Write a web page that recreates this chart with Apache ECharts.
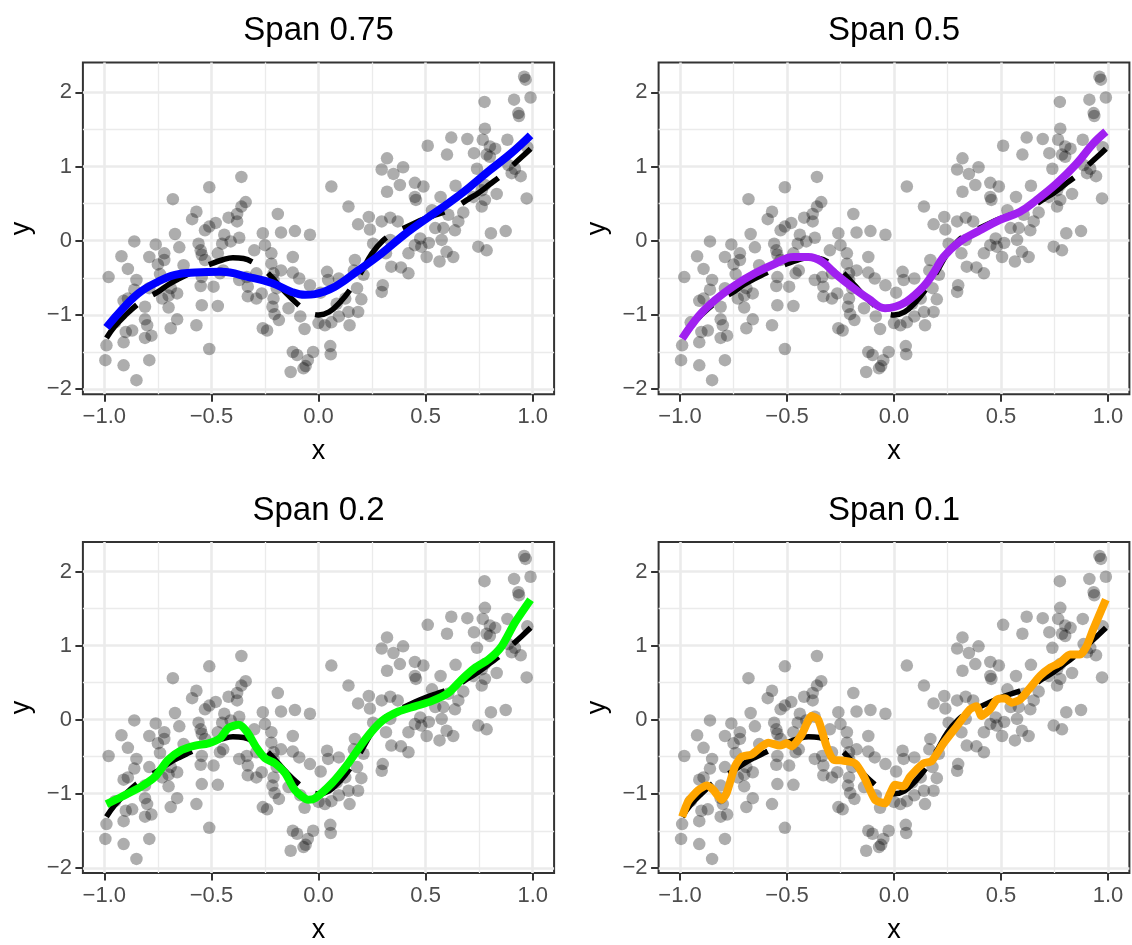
<!DOCTYPE html>
<html><head><meta charset="utf-8">
<script src="https://cdn.jsdelivr.net/npm/echarts@6/dist/echarts.min.js"></script>
<style>html,body{margin:0;padding:0;background:#fff}#c{width:1132px;height:945px}</style>
</head><body><div id="c"></div>
<script>
const panelTitles = ['Span 0.75', 'Span 0.5', 'Span 0.2', 'Span 0.1'];
const fitColors = ['#0000FF', '#A020F0', '#00FF00', '#FFA500'];
const xTicks = [-1, -0.5, 0, 0.5, 1];
const xMinor = [-0.75, -0.25, 0.25, 0.75];
const yTicks = [-2, -1, 0, 1, 2];
const yMinor = [-1.5, -0.5, 0.5, 1.5];

const points = [
[-0.68,0.56],[-0.57,0.39],[-0.59,0.29],[-0.67,0.09],[-0.86,-0.01],[-0.76,-0.05],[-0.92,-0.21],[-0.72,-0.17],[-0.72,-0.26],[-0.65,-0.09],[-0.79,-0.22],[-0.89,-0.38],[-0.98,-0.49],[-0.85,-0.53],[-0.75,-0.32],[-0.63,-0.33],[-0.86,-0.66],[-0.89,-0.78],[-0.91,-0.81],[-0.79,-0.64],[-0.73,-0.78],[-0.69,-0.64],[-0.66,-0.71],[-0.81,-0.89],[-0.70,-0.90],[-0.66,-1.06],[-0.81,-1.06],[-0.80,-1.14],[-0.57,-1.14],[-0.69,-1.18],[-0.90,-1.23],[-0.87,-1.21],[-0.99,-1.41],[-0.91,-1.37],[-0.81,-1.31],[-0.78,-1.28],[-0.995,-1.61],[-0.91,-1.68],[-0.79,-1.61],[-0.85,-1.88],[-0.55,-0.61],[-0.95,-1.10],[-0.74,-0.45],[-0.70,-0.74],
[-0.36,0.86],[-0.51,0.72],[-0.34,0.52],[-0.36,0.46],[-0.38,0.36],[-0.42,0.31],[-0.38,0.26],[-0.48,0.24],[-0.51,0.19],[-0.53,0.14],[-0.19,0.36],[-0.175,0.11],[-0.11,0.13],[-0.04,0.08],[-0.26,0.10],[-0.44,0.08],[-0.37,0.04],[-0.41,-0.01],[-0.45,-0.04],[-0.25,-0.06],[-0.30,-0.13],[-0.22,-0.17],[-0.12,-0.22],[-0.56,-0.04],[-0.55,-0.13],[-0.545,-0.19],[-0.53,-0.26],[-0.47,-0.17],[-0.37,-0.53],[-0.49,-0.62],[-0.545,-0.49],[-0.545,-0.87],[-0.47,-0.88],[-0.51,-1.46],[-0.33,-0.75],[-0.29,-0.78],[-0.265,-0.71],[-0.335,-0.49],[-0.29,-0.44],[-0.22,-0.31],[-0.21,-0.44],[-0.175,-0.40],[-0.21,-0.53],[-0.195,-0.64],[-0.21,-0.78],[-0.215,-0.89],[-0.205,-0.99],[-0.185,-1.07],[-0.26,-1.18],[-0.24,-1.21],[-0.14,-0.91],[-0.12,-0.43],[-0.09,-0.51],[-0.04,-0.60],[-0.085,-1.02],[-0.065,-1.19],[-0.12,-1.50],[-0.10,-1.54],[-0.13,-1.77],[-0.07,-1.72],[-0.06,-1.69],[-0.05,-1.61],[-0.025,-1.50],[0.0,-1.11],[-0.46,-0.44],[-0.445,-0.40],[-0.33,-0.62],[0.01,-0.70],
[0.51,1.28],[0.32,1.11],[0.295,0.96],[0.35,0.90],[0.395,0.99],[0.38,0.75],[0.32,0.66],[0.45,0.78],[0.49,0.73],[0.45,0.59],[0.455,0.55],[0.57,0.59],[0.06,0.73],[0.14,0.46],[0.185,0.22],[0.235,0.32],[0.24,0.15],[0.295,0.26],[0.335,0.31],[0.37,0.26],[0.335,0.01],[0.255,-0.04],[0.315,-0.17],[0.34,-0.35],[0.385,-0.36],[0.42,-0.44],[0.42,-0.17],[0.45,-0.06],[0.475,0.03],[0.48,-0.08],[0.515,-0.03],[0.505,-0.22],[0.545,0.17],[0.565,-0.28],[0.53,0.41],[0.17,-0.26],[0.165,-0.40],[0.21,-0.46],[0.18,-0.64],[0.20,-0.79],[0.14,-0.96],[0.185,-0.96],[0.145,-1.14],[0.095,-1.02],[0.06,-1.10],[0.03,-1.14],[0.055,-1.42],[0.057,-1.53],[0.04,-0.42],[0.095,-0.51],[0.045,-0.53],[0.30,-0.60],[0.295,-0.69],[0.125,-0.78],[0.085,-0.85],
[0.96,2.21],[0.967,2.17],[0.775,1.87],[0.913,1.90],[0.99,1.93],[0.933,1.72],[0.936,1.68],[0.777,1.51],[0.62,1.39],[0.695,1.37],[0.767,1.36],[0.882,1.36],[0.60,1.16],[0.726,1.18],[0.80,1.27],[0.825,1.24],[0.785,1.16],[0.80,1.13],[0.975,1.26],[0.886,1.02],[0.917,0.97],[0.902,0.91],[0.944,0.87],[0.74,0.97],[0.64,0.74],[0.777,0.75],[0.762,0.68],[0.832,0.63],[0.723,0.59],[0.777,0.55],[0.762,0.46],[0.972,0.57],[0.676,0.38],[0.606,0.35],[0.653,0.26],[0.637,0.14],[0.583,0.17],[0.805,0.10],[0.874,0.13],[0.575,0.01],[0.598,-0.15],[0.629,-0.22],[0.746,-0.08],[0.785,-0.13]
];

const trueCurve = [
[-0.99,-1.31],[-0.95,-1.15],[-0.9,-1.0],[-0.85,-0.87],[-0.8,-0.77],[-0.75,-0.69],[-0.7,-0.59],[-0.65,-0.51],[-0.6,-0.44],[-0.55,-0.37],[-0.5,-0.31],[-0.45,-0.26],[-0.4,-0.23],[-0.35,-0.24],[-0.3,-0.30],[-0.25,-0.40],[-0.2,-0.55],[-0.15,-0.71],[-0.1,-0.85],[-0.05,-0.96],[0.0,-1.0],[0.05,-0.96],[0.1,-0.83],[0.15,-0.65],[0.2,-0.42],[0.25,-0.17],[0.3,0.0],[0.35,0.10],[0.4,0.17],[0.45,0.24],[0.5,0.30],[0.55,0.35],[0.6,0.40],[0.65,0.47],[0.7,0.56],[0.75,0.65],[0.8,0.76],[0.85,0.87],[0.9,1.0],[0.95,1.13],[0.99,1.24]
];

const fitSpan075 = [
[-0.99,-1.17],[-0.934,-0.98],[-0.841,-0.71],[-0.748,-0.55],[-0.67,-0.46],[-0.577,-0.43],[-0.452,-0.42],[-0.327,-0.49],[-0.218,-0.57],[-0.125,-0.69],[-0.063,-0.73],[-0.016,-0.72],[0.077,-0.62],[0.186,-0.40],[0.295,-0.17],[0.4,0.08],[0.5,0.29],[0.6,0.49],[0.7,0.71],[0.8,0.95],[0.9,1.18],[0.99,1.42]
];
const fitSpan05 = [
[-0.99,-1.32],[-0.914,-1.02],[-0.836,-0.80],[-0.743,-0.60],[-0.650,-0.44],[-0.556,-0.31],[-0.470,-0.22],[-0.400,-0.22],[-0.338,-0.28],[-0.276,-0.44],[-0.198,-0.62],[-0.120,-0.78],[-0.042,-0.91],[0.005,-0.89],[0.059,-0.82],[0.137,-0.62],[0.184,-0.44],[0.231,-0.22],[0.308,-0.01],[0.402,0.14],[0.495,0.28],[0.589,0.39],[0.667,0.55],[0.760,0.77],[0.854,1.04],[0.931,1.31],[0.99,1.47]
];
const fitSpan02 = [
[-0.99,-1.14],[-0.919,-1.04],[-0.826,-0.90],[-0.763,-0.77],[-0.701,-0.54],[-0.639,-0.41],[-0.576,-0.35],[-0.514,-0.32],[-0.459,-0.25],[-0.420,-0.11],[-0.373,-0.07],[-0.335,-0.16],[-0.289,-0.38],[-0.250,-0.52],[-0.203,-0.59],[-0.156,-0.72],[-0.110,-0.95],[-0.047,-1.08],[-0.016,-1.06],[0.062,-0.86],[0.139,-0.59],[0.217,-0.27],[0.295,-0.02],[0.373,0.11],[0.451,0.18],[0.528,0.25],[0.606,0.36],[0.668,0.54],[0.731,0.70],[0.793,0.81],[0.855,0.99],[0.917,1.31],[0.99,1.62]
];
const fitSpan01 = [
[-0.99,-1.31],[-0.961,-1.10],[-0.914,-0.95],[-0.875,-0.89],[-0.844,-0.95],[-0.805,-1.08],[-0.782,-0.99],[-0.743,-0.63],[-0.712,-0.50],[-0.665,-0.47],[-0.618,-0.36],[-0.587,-0.31],[-0.533,-0.35],[-0.502,-0.32],[-0.478,-0.36],[-0.431,-0.20],[-0.385,0.05],[-0.354,0.00],[-0.315,-0.36],[-0.283,-0.54],[-0.245,-0.55],[-0.182,-0.59],[-0.140,-0.77],[-0.089,-1.08],[-0.042,-1.13],[-0.019,-1.0],[0.005,-0.88],[0.044,-0.90],[0.075,-0.77],[0.137,-0.59],[0.176,-0.56],[0.231,-0.32],[0.293,-0.09],[0.355,0.14],[0.386,0.18],[0.409,0.05],[0.449,0.14],[0.480,0.27],[0.519,0.29],[0.550,0.23],[0.589,0.27],[0.636,0.43],[0.682,0.59],[0.729,0.70],[0.776,0.77],[0.822,0.88],[0.869,0.88],[0.900,0.99],[0.931,1.22],[0.99,1.62]
];
const fits = [fitSpan075, fitSpan05, fitSpan02, fitSpan01];
const fitSmooth = [0.4, 0.4, 0.25, 0.2];

const FONT = '"Liberation Sans", Arial, Helvetica, sans-serif';
const grids = [
  {left: 82.9, top: 62.6, width: 471.2, height: 331.7},
  {left: 658.6, top: 62.6, width: 470.8, height: 331.7},
  {left: 82.9, top: 541.9, width: 471.2, height: 331.7},
  {left: 658.6, top: 541.9, width: 470.8, height: 331.7}
];
const titleTops = [14, 14, 494, 494];
const minus = v => (v < 0 ? '\u2212' : '') ;
const fmtX = v => minus(v) + Math.abs(v).toFixed(1);
const fmtY = v => minus(v) + Math.abs(v).toFixed(0);

const option = {
  animation: false,
  backgroundColor: '#ffffff',
  title: [], grid: [], xAxis: [], yAxis: [], series: []
};

grids.forEach((g, i) => {
  option.grid.push(Object.assign({show: true, borderColor: '#333333', borderWidth: 2, backgroundColor: '#ffffff', containLabel: false}, g));
  option.title.push({
    text: panelTitles[i], left: g.left + g.width / 2, top: titleTops[i], textAlign: 'center', padding: 0,
    textStyle: {fontSize: 33, fontWeight: 'normal', color: '#000', fontFamily: FONT}
  });
  option.xAxis.push({
    type: 'value', gridIndex: i, min: -1.1, max: 1.1, position: 'bottom',
    name: 'x', nameLocation: 'middle', nameGap: 44,
    nameTextStyle: {fontSize: 27, color: '#000', fontFamily: FONT},
    axisLine: {show: false, onZero: false},
    axisTick: {show: true, length: 7.5, customValues: xTicks, lineStyle: {color: '#333333', width: 2}},
    axisLabel: {show: true, customValues: xTicks, formatter: fmtX, margin: 12, fontSize: 22, color: '#4D4D4D', fontFamily: FONT},
    splitLine: {show: true, lineStyle: {color: '#EBEBEB', width: 2.6}}
  });
  option.xAxis.push({
    type: 'value', gridIndex: i, min: -1.1, max: 1.1, position: 'bottom',
    axisLine: {show: false, onZero: false}, axisLabel: {show: false},
    axisTick: {show: false, customValues: xMinor},
    splitLine: {show: true, lineStyle: {color: '#EBEBEB', width: 1.3}}
  });
  option.yAxis.push({
    type: 'value', gridIndex: i, min: -2.07, max: 2.40, position: 'left',
    name: 'y', nameLocation: 'middle', nameGap: 48,
    nameTextStyle: {fontSize: 27, color: '#000', fontFamily: FONT},
    axisLine: {show: false, onZero: false},
    axisTick: {show: true, length: 7.5, customValues: yTicks, lineStyle: {color: '#333333', width: 2}},
    axisLabel: {show: true, customValues: yTicks, formatter: fmtY, margin: 11, fontSize: 22, color: '#4D4D4D', fontFamily: FONT},
    splitLine: {show: true, lineStyle: {color: '#EBEBEB', width: 2.6}}
  });
  option.yAxis.push({
    type: 'value', gridIndex: i, min: -2.07, max: 2.40, position: 'left',
    axisLine: {show: false, onZero: false}, axisLabel: {show: false},
    axisTick: {show: false, customValues: yMinor},
    splitLine: {show: true, lineStyle: {color: '#EBEBEB', width: 1.3}}
  });
  option.series.push({
    type: 'scatter', xAxisIndex: 2 * i, yAxisIndex: 2 * i, data: points,
    symbol: 'circle', symbolSize: 12.5, silent: true,
    itemStyle: {color: '#000000', opacity: 0.32}
  });
  option.series.push({
    type: 'line', xAxisIndex: 2 * i, yAxisIndex: 2 * i, data: trueCurve,
    showSymbol: false, smooth: 0.4, silent: true,
    lineStyle: {color: '#000000', width: 5.5, type: [45, 19], cap: 'butt'}
  });
  option.series.push({
    type: 'line', xAxisIndex: 2 * i, yAxisIndex: 2 * i, data: fits[i],
    showSymbol: false, smooth: fitSmooth[i], silent: true,
    lineStyle: {color: fitColors[i], width: 8, cap: 'butt'}
  });
});

const chart = echarts.init(document.getElementById('c'), null, {renderer: 'canvas'});
chart.setOption(option);
</script>
</body></html>
